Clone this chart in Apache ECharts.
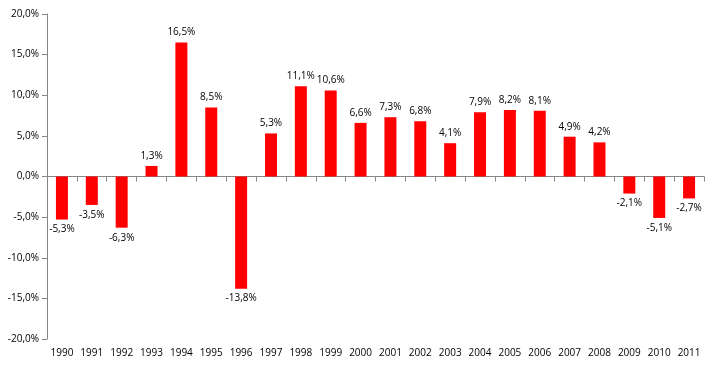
<!DOCTYPE html>
<html><head><meta charset="utf-8">
<script src="https://cdn.jsdelivr.net/npm/echarts@6/dist/echarts.min.js"></script>
<style>html,body{margin:0;padding:0;background:#fff}#c{width:713px;height:368px}</style>
</head><body><div id="c"></div>
<script>
var years = ['1990','1991','1992','1993','1994','1995','1996','1997','1998','1999','2000','2001','2002','2003','2004','2005','2006','2007','2008','2009','2010','2011'];
var growth = [-5.3,-3.5,-6.3,1.3,16.5,8.5,-13.8,5.3,11.1,10.6,6.6,7.3,6.8,4.1,7.9,8.2,8.1,4.9,4.2,-2.1,-5.1,-2.7];
var yTicks = [-20,-15,-10,-5,0,5,10,15,20];

function fmt(v){ return v.toFixed(1).replace('.', ',') + '%'; }
var FONT = 'Open Sans';
var chart = echarts.init(document.getElementById('c'));
chart.setOption({
  animation: false,
  grid: {left: 47, right: 9, top: 14, bottom: 29},
  xAxis: [{
    type: 'category', data: years, position: 'bottom',
    axisLine: {show: false, onZero: false}, axisTick: {show: false},
    axisLabel: {interval: 0, color: '#000', fontFamily: FONT, fontSize: 10, margin: 9}
  }, {
    type: 'category', data: years, position: 'bottom',
    axisLine: {show: true, onZero: true, lineStyle: {color: '#868686'}},
    axisTick: {show: true, interval: 0, length: 5, lineStyle: {color: '#868686'}},
    axisLabel: {show: false}
  }],
  yAxis: {
    type: 'value', min: yTicks[0], max: yTicks[yTicks.length-1], interval: 5,
    splitLine: {show: false},
    axisLine: {show: true, lineStyle: {color: '#868686'}},
    axisTick: {show: true, length: 5, lineStyle: {color: '#868686'}},
    axisLabel: {color: '#000', fontFamily: FONT, fontSize: 10, margin: 8, formatter: function(v){ return fmt(v); }}
  },
  series: [{
    type: 'bar', xAxisIndex: 0,
    barWidth: 12,
    itemStyle: {color: '#ff0000'},
    data: growth.map(function(v){
      return {value: v, label: {position: v >= 0 ? 'top' : 'bottom'}};
    }),
    label: {show: true, color: '#000', fontFamily: FONT, fontSize: 10, distance: 5,
      formatter: function(p){ return fmt(p.value); }}
  }]
});
</script></body></html>
